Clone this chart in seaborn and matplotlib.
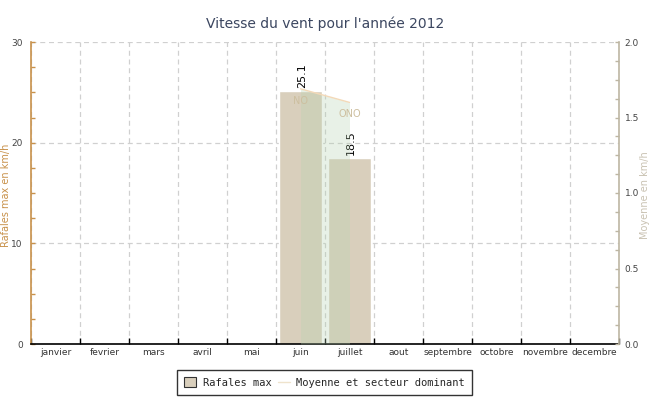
import numpy as np
import pandas as pd
import matplotlib
matplotlib.use("Agg")
import matplotlib.pyplot as plt
from matplotlib.ticker import MultipleLocator, FixedLocator, FormatStrFormatter
from matplotlib.patches import Patch
from matplotlib.lines import Line2D
import seaborn as sns

months = ["janvier", "fevrier", "mars", "avril", "mai", "juin", "juillet",
          "aout", "septembre", "octobre", "novembre", "decembre"]
rafales = [np.nan, np.nan, np.nan, np.nan, np.nan, 25.1, 18.5,
           np.nan, np.nan, np.nan, np.nan, np.nan]
moyenne = [np.nan, np.nan, np.nan, np.nan, np.nan, 1.69, 1.60,
           np.nan, np.nan, np.nan, np.nan, np.nan]
secteur = ["", "", "", "", "", "NO", "ONO", "", "", "", "", ""]

title = "Vitesse du vent pour l'année 2012"

sns.set_theme(style="white")
plt.rcParams["font.family"] = ["DejaVu Sans"]

BAR = "#d9cfbc"
LEFT_C = "#c8914a"
RIGHT_C = "#bdb6a3"

df = pd.DataFrame({"mois": months, "rafales": rafales, "moyenne": moyenne,
                   "secteur": secteur})

fig = plt.figure(figsize=(6.5, 4.0), dpi=100)
ax = fig.add_axes([31 / 650, 1 - 344 / 400, 588 / 650, 302 / 400])

sns.barplot(data=df, x="mois", y="rafales", order=months, color=BAR,
            saturation=1, width=0.86, ax=ax, zorder=2)
ax.set_xlim(-0.5, 11.5)
ax.set_ylim(0, 30)
ax.set_axisbelow(True)

# labels above bars
for i, v in enumerate(rafales):
    if not np.isnan(v):
        ax.text(i + 0.03, v + 0.3, f"{v:.1f}", rotation=90, ha="center",
                va="bottom", fontsize=8, color="black")

# x axis: ticks at boundaries, labels at centers
ax.xaxis.set_major_locator(FixedLocator(np.arange(-0.5, 12, 1)))
ax.xaxis.set_minor_locator(FixedLocator(np.arange(0, 12, 1)))
ax.set_xticklabels([""] * 13)
ax.set_xticklabels(months, minor=True)
ax.tick_params(axis="x", which="major", direction="in", length=4, width=1,
               color="black", bottom=True)
ax.tick_params(axis="x", which="minor", length=0, labelsize=6.5,
               labelcolor="#333333", pad=3)
ax.grid(True, axis="x", which="major", linestyle=(0, (4, 3)), color="#d0d0d0",
        linewidth=0.9)

# left y axis
ax.yaxis.set_major_locator(MultipleLocator(10))
ax.yaxis.set_minor_locator(MultipleLocator(2.5))
ax.tick_params(axis="y", which="both", direction="in", left=True, length=3,
               width=1, color=LEFT_C, labelsize=6.5, labelcolor="#444444", pad=6)
ax.grid(True, axis="y", which="major", linestyle=(0, (4, 3)), color="#d0d0d0",
        linewidth=0.9)
ax.set_ylabel("")
ax.set_xlabel("")

for s in ["top", "right"]:
    ax.spines[s].set_visible(False)
ax.spines["left"].set_color(LEFT_C)
ax.spines["left"].set_linewidth(1.2)
ax.spines["bottom"].set_color("black")
ax.spines["bottom"].set_linewidth(1.2)

# right axis: moyenne area
ax2 = ax.twinx()
xs = np.arange(12)
mv = np.array(moyenne, dtype=float)
ax2.fill_between(xs, mv, 0, color="#b5d3b0", alpha=0.3, linewidth=0, zorder=3)
sns.lineplot(x=xs, y=mv, color="#f3d9b8", linewidth=1, ax=ax2, zorder=4)
for i, (m, sct) in enumerate(zip(mv, secteur)):
    if not np.isnan(m) and sct:
        ax2.text(i, m - 0.08, sct, ha="center", va="center", fontsize=7,
                 color="#cdbf9f")
ax2.set_ylim(0, 2.0)
ax2.yaxis.set_major_locator(MultipleLocator(0.5))
ax2.yaxis.set_minor_locator(MultipleLocator(0.125))
ax2.yaxis.set_major_formatter(FormatStrFormatter("%.1f"))
ax2.tick_params(axis="y", which="both", direction="in", right=True, length=3,
                width=1, color=RIGHT_C, labelsize=6.5, labelcolor="#444444", pad=4)
ax2.set_ylabel("")
for s in ["top", "left", "bottom"]:
    ax2.spines[s].set_visible(False)
ax2.spines["right"].set_color(RIGHT_C)
ax2.spines["right"].set_linewidth(1.2)
ax2.grid(False)

fig.text(6 / 650, 1 - 195 / 400, "Rafales max en km/h", rotation=90,
         ha="center", va="center", fontsize=7, color=LEFT_C)
fig.text(645.5 / 650, 1 - 195 / 400, "Moyenne en km/h", rotation=90,
         ha="center", va="center", fontsize=7, color="#c9c2b2")

fig.text(0.5, 1 - 24 / 400, title, ha="center", va="center", fontsize=10,
         color="#3b4660")

handles = [Patch(facecolor=BAR, edgecolor="#333333", linewidth=0.8),
           Line2D([0], [0], color="#efe3cc", linewidth=1)]
leg = fig.legend(handles, ["Rafales max", "Moyenne et secteur dominant"],
                 loc="center", bbox_to_anchor=(324.5 / 650, 1 - 382.5 / 400),
                 ncol=2, frameon=True, fancybox=False, handlelength=1.2,
                 handleheight=1.0, columnspacing=0.6, handletextpad=0.6,
                 borderpad=0.7,
                 prop={"family": "DejaVu Sans Mono", "size": 7.5})
leg.get_frame().set_edgecolor("black")
leg.get_frame().set_linewidth(1)

fig.savefig("out.png", dpi=100)
